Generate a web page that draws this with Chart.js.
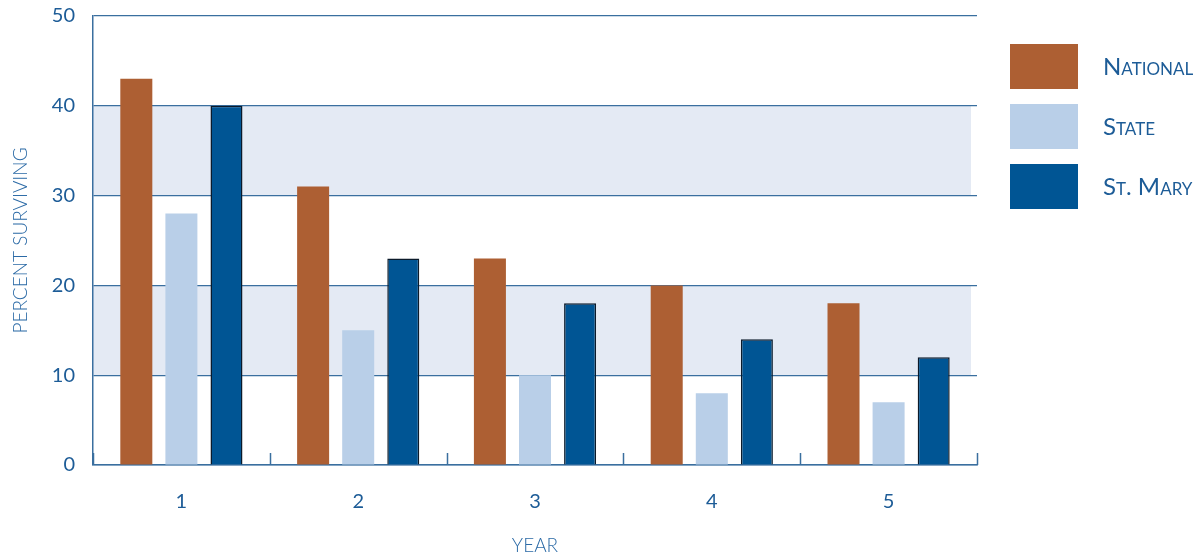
<!DOCTYPE html>
<html>
<head>
<meta charset="utf-8">
<script src="https://cdn.jsdelivr.net/npm/chart.js@4/dist/chart.umd.min.js"></script>
<style>
  body { margin: 0; background: #fff; }
  canvas { display: block; }
</style>
</head>
<body>
<canvas id="survivalChart" width="1198" height="552"></canvas>
<script>
// データ
const years = ['1', '2', '3', '4', '5'];
const national = [43, 31, 23, 20, 18];
const state = [28, 15, 10, 8, 7];
const stMary = [40, 23, 18, 14, 12];
const seriesNames = ['National', 'State', 'St. Mary'];
const yTicks = [0, 10, 20, 30, 40, 50];
const bands = [[10, 20], [30, 40]]; // 塗りつぶす帯

const BLUE_TEXT = '#1d5c97';
const GRID = '#3a6f9f';
const colors = ['#ad5f33', '#b9cfe8', '#005594'];

// 帯の背景を描く
const bandPlugin = {
  id: 'bands',
  beforeDraw(chart) {
    const { ctx, chartArea } = chart;
    const y = chart.scales.y;
    ctx.save();
    ctx.fillStyle = '#e4eaf4';
    bands.forEach(([lo, hi]) => {
      const top = y.getPixelForValue(hi);
      const bottom = y.getPixelForValue(lo);
      ctx.fillRect(chartArea.left, top, chartArea.right - 6 - chartArea.left, bottom - top);
    });
    ctx.restore();
  }
};

// x軸の区切りの目盛り（上向き）
const xTickPlugin = {
  id: 'xTicksUp',
  afterDatasetsDraw(chart) {
    const { ctx, chartArea } = chart;
    const x = chart.scales.x;
    ctx.save();
    ctx.strokeStyle = GRID;
    ctx.lineWidth = 1.5;
    for (let i = 0; i <= years.length; i++) {
      const px = Math.round(x.getPixelForValue(i - 0.5)) + 0.5;
      ctx.beginPath();
      ctx.moveTo(px, chartArea.bottom);
      ctx.lineTo(px, chartArea.bottom - 12);
      ctx.stroke();
    }
    ctx.restore();
  }
};

// 右側の凡例（スモールキャップス）
const legendPlugin = {
  id: 'sideLegend',
  afterDraw(chart) {
    const ctx = chart.ctx;
    ctx.save();
    chart.data.datasets.forEach((ds, i) => {
      const top = 44 + i * 60;
      ctx.fillStyle = ds.backgroundColor;
      ctx.fillRect(1010, top, 68, 45);
      ctx.font = 'small-caps 400 24px Lato, "Open Sans", sans-serif';
      if ('fontVariantCaps' in ctx) ctx.fontVariantCaps = 'small-caps';
      ctx.fillStyle = BLUE_TEXT;
      ctx.textBaseline = 'middle';
      ctx.textAlign = 'left';
      ctx.fillText(ds.label, 1103, top + 23);
    });
    ctx.restore();
  }
};

const makeSet = (label, data, i) => ({
  label: label,
  data: data,
  backgroundColor: colors[i],
  borderColor: i === 2 ? '#0b1a2a' : colors[i],
  borderWidth: i === 2 ? 1.5 : 0,
  categoryPercentage: 0.765,
  barPercentage: 0.71
});

new Chart(document.getElementById('survivalChart'), {
  type: 'bar',
  data: {
    labels: years,
    datasets: [
      makeSet(seriesNames[0], national, 0),
      makeSet(seriesNames[1], state, 1),
      makeSet(seriesNames[2], stMary, 2)
    ]
  },
  options: {
    responsive: false,
    animation: false,
    layout: { padding: { top: 16, right: 221, left: 0, bottom: 0 } },
    plugins: {
      legend: { display: false },
      tooltip: { enabled: false }
    },
    scales: {
      x: {
        grid: { display: false, drawTicks: false },
        border: { display: true, color: GRID, width: 1.5 },
        ticks: {
          color: BLUE_TEXT,
          padding: 25,
          font: { family: 'Lato', size: 20 }
        },
        title: {
          display: true,
          text: 'YEAR',
          color: '#2b6aa6',
          font: { family: 'Lato', size: 19, weight: 300 },
          padding: { top: 0, bottom: -5 }
        },
        afterFit(scale) { scale.height = 87; }
      },
      y: {
        min: 0,
        max: 50,
        afterBuildTicks(scale) { scale.ticks = yTicks.map(v => ({ value: v })); },
        grid: { color: GRID, lineWidth: 1.2, drawTicks: false },
        border: { display: true, color: GRID, width: 1.5 },
        ticks: {
          color: BLUE_TEXT,
          padding: 18,
          font: { family: 'Lato', size: 20 }
        },
        title: {
          display: true,
          text: 'PERCENT SURVIVING',
          color: '#2b6aa6',
          font: { family: 'Lato', size: 19, weight: 300 },
          padding: { top: 9, bottom: 0 }
        },
        afterFit(scale) {
          scale.width = 93;
          scale.paddingTop = 0;
          scale.paddingBottom = 0;
        }
      }
    }
  },
  plugins: [bandPlugin, xTickPlugin, legendPlugin]
});
</script>
</body>
</html>
